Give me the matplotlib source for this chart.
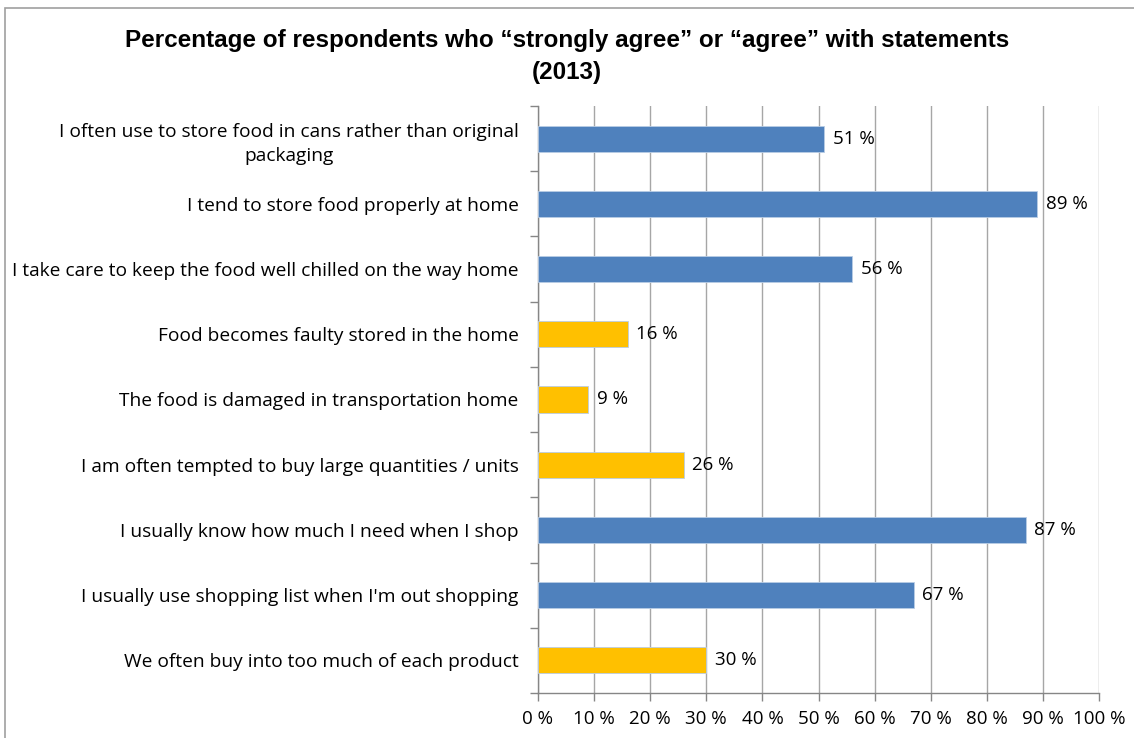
import matplotlib
matplotlib.use("Agg")
import matplotlib.pyplot as plt
from matplotlib.patches import Rectangle
from matplotlib.ticker import FixedLocator

# survey statements, top to bottom
statements = [
    "I often use to store food in cans rather than original\npackaging",
    "I tend to store food properly at home",
    "I take care to keep the food well chilled on the way home",
    "Food becomes faulty stored in the home",
    "The food is damaged in transportation home",
    "I am often tempted to buy large quantities / units",
    "I usually know how much I need when I shop",
    "I usually use shopping list when I'm out shopping",
    "We often buy into too much of each product",
]
agree_pct = [51, 89, 56, 16, 9, 26, 87, 67, 30]
is_problem = [False, False, False, True, True, True, False, False, True]
x_ticks = list(range(0, 101, 10))

BLUE = "#4F81BD"
GOLD = "#FFC000"
GRID = "#A6A6A6"
BODY_FONT = ["Open Sans", "DejaVu Sans"]

plt.rcParams["font.family"] = ["Liberation Sans Narrow", "Liberation Sans", "DejaVu Sans"]

fig = plt.figure(figsize=(11.34, 7.38), dpi=100)
fig.patch.set_facecolor("white")

# outer chart frame
fig.add_artist(Rectangle((5 / 1134, -0.1), 1.2, 1 - 8 / 738 + 0.1, transform=fig.transFigure,
                         fill=False, edgecolor="#A0A0A0", linewidth=1.2))

ax = fig.add_axes([538 / 1134, 1 - 693 / 738, (1099 - 538) / 1134, (693 - 106) / 738])

n = len(statements)
ypos = list(range(n))
colors = [GOLD if p else BLUE for p in is_problem]
ax.barh(ypos, agree_pct, height=0.4, color=colors, edgecolor="#B9CDE5", linewidth=0.6, zorder=3)

for y, v in zip(ypos, agree_pct):
    ax.text(v + 1.5, y, f"{v} %", va="center", ha="left", fontsize=13.5, color="black",
            family=BODY_FONT, zorder=4)

ax.set_xlim(0, 100)
ax.set_ylim(n - 0.5, -0.5)
ax.set_xticks(x_ticks)
ax.set_xticklabels([f"{t} %" for t in x_ticks], fontsize=13.5, family=BODY_FONT)
ax.grid(axis="x", color=GRID, linewidth=1.0, zorder=0)

ax.set_yticks(ypos)
ax.set_yticklabels(statements, fontsize=13.8, family=BODY_FONT, multialignment="center",
                   linespacing=1.45)
ax.tick_params(axis="y", length=0, pad=14)
ax.yaxis.set_minor_locator(FixedLocator([i - 0.5 for i in range(n + 1)]))
ax.tick_params(axis="y", which="minor", length=6, color="#868686", width=1)
ax.tick_params(axis="x", length=6, color="#868686", width=1, pad=6)

for side in ("top", "right"):
    ax.spines[side].set_visible(False)
for side in ("left", "bottom"):
    ax.spines[side].set_color("#868686")
    ax.spines[side].set_linewidth(1)

fig.text(0.5, 1 - 40 / 738, "Percentage of respondents who \u201cstrongly agree\u201d or \u201cagree\u201d with statements",
         ha="center", va="center", fontsize=17.5, fontweight="bold")
fig.text(0.5, 1 - 72 / 738, "(2013)", ha="center", va="center", fontsize=17.5, fontweight="bold")

fig.savefig("out.png", dpi=100, facecolor="white")
